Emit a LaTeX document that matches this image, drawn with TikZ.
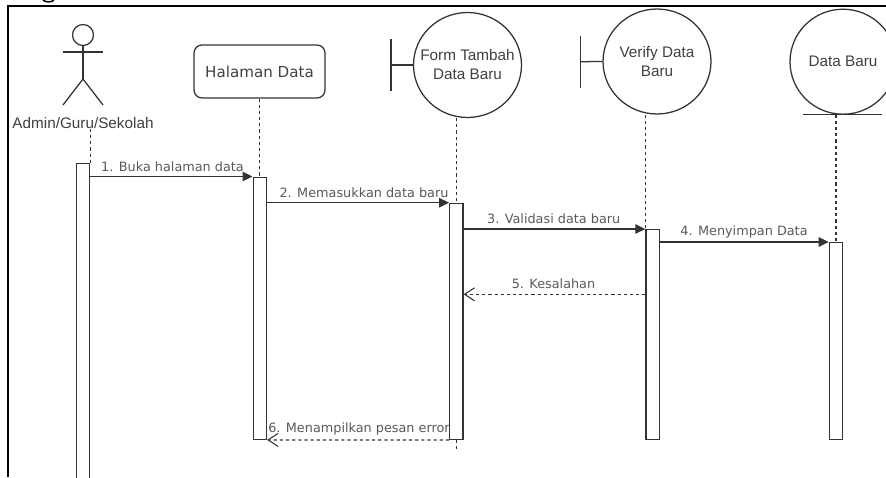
\documentclass[tikz,border=0pt]{standalone}
\usepackage{fontspec}
\newfontfamily\headfont{Liberation Sans}
\newfontfamily\msgfont{DejaVu Sans}
\usetikzlibrary{arrows.meta}
\usetikzlibrary{shapes.geometric}
\tikzset{
  lineColor/.style = {draw = black!80, line width = 0.72pt},
  lifeline/.style = {lineColor, dash pattern = on 1.8pt off 1.7pt},
  entity/.style = {lineColor, ellipse, minimum width = 2.16cm, minimum height = 2.1cm, inner sep = -0.3cm, align = center, text = black!75, font = \headfont\fontsize{8.7}{10.8}\selectfont},
  actbar/.style = {lineColor, fill = white, anchor = north, minimum width = 0.266cm, inner sep = 0pt},
  msgcall/.style = {lineColor, -{Triangle[length = 0.2cm, width = 0.19cm]}},
  msgback/.style = {lifeline, -{Straight Barb[length = 0.2cm, width = 0.26cm, line width = 0.6pt]}},
  msglabel/.style = {inner sep = 0pt, text = black!65, font = \msgfont\fontsize{7.3}{9}\selectfont},
}

\begin{document}
\begin{tikzpicture}[x = 0.02cm, y = -0.02cm]
      \useasboundingbox (0, 0) rectangle (886, 477);
      \clip (0, 0) rectangle (886, 477);
      \draw[line width = 0.9pt] (8, 477) -- (8, 6) -- (886, 6);
      \draw[line width = 0.9pt] (43, 0) .. controls (45, 2.5) and (52, 2.5) .. (54, 0);

      \node[lineColor, circle, minimum size = 0.42cm, inner sep = 0pt] (actorHead) at (83, 35) {};
      \coordinate (actorHip) at (83, 79);
      \draw[lineColor] (actorHead.south) -- (actorHip);
      \draw[lineColor] (63, 52) -- (103, 52);
      \draw[lineColor] (63, 105) -- (actorHip) -- (103, 105);
      \node[inner sep = 0pt, text = black!75, font = \headfont\fontsize{8.7}{10.8}\selectfont] (actorLabel) at (83, 123) {Admin/Guru/Sekolah};

      \node[lineColor, rectangle, rounded corners = 0.16cm, minimum width = 2.62cm, minimum height = 1.06cm, text = black!75, font = \msgfont\fontsize{8.6}{10}\selectfont] (halaman) at (259.5, 71.5) {Halaman Data};
      \node[entity] (form) at (467.5, 65) {Form Tambah\\Data Baru};
      \node[entity] (verify) at (657, 61.5) {Verify Data\\Baru};
      \node[entity, minimum width = 2.12cm] (dataBaru) at (843, 61.7) {Data Baru};

      \coordinate (formBar) at (391, 65);
      \coordinate (verifyBar) at (580.7, 61.7);
      \draw[lineColor] (form.west) -- (formBar);
      \draw[lineColor] (formBar) ++(0, -26) -- ++(0, 52);
      \draw[lineColor] (verify.west) -- (verifyBar);
      \draw[lineColor] (verifyBar) ++(0, -26) -- ++(0, 52);
      \draw[lineColor] (803, 114.5) -- (882, 114.5);

      \node[actbar, minimum height = 7cm] (actAdmin) at (83, 163) {};
      \node[actbar, minimum height = 5.244cm] (actHalaman) at (259.8, 176.5) {};
      \node[actbar, minimum height = 4.72cm] (actForm) at (456.3, 202.7) {};
      \node[actbar, minimum height = 4.194cm] (actVerify) at (652.6, 229) {};
      \node[actbar, minimum height = 3.934cm] (actData) at (836, 242) {};

      \coordinate (formEnd) at (456.3, 452);
      \coordinate (kesalahan) at (652.6, 294.3);

      \draw[lifeline] (actAdmin.north east |- actorLabel.south) -- (actAdmin.north east);
      \draw[lifeline] (halaman.south -| actHalaman.north) -- (actHalaman.north);
      \draw[lifeline] (form.south -| actForm.north) -- (actForm.north);
      \draw[lifeline] (actForm.south) -- (formEnd);
      \draw[lifeline] (verify.south -| actVerify.north west) -- (actVerify.north west);
      \draw[lifeline] (dataBaru.south -| actData.north) -- (actData.north);

      \draw[msgcall] (actAdmin.east |- actHalaman.north west) -- (actHalaman.north west);
      \draw[msgcall] (actHalaman.east |- actForm.north west) -- (actForm.north west);
      \draw[msgcall] (actForm.east |- actVerify.north west) -- (actVerify.north west);
      \draw[msgcall] (actVerify.east |- actData.north west) -- (actData.north west);
      \draw[msgback] (actVerify.west |- kesalahan) -- (actForm.east |- kesalahan);
      \draw[msgback] (actForm.south west) -- (actHalaman.south east);

      \node[msglabel] (labelBuka) at (172.5, 167) {1. Buka halaman data};
      \node[msglabel] (labelMasuk) at (364, 192.5) {2. Memasukkan data baru};
      \node[msglabel] (labelValidasi) at (553.7, 218.5) {3. Validasi data baru};
      \node[msglabel] (labelSimpan) at (744, 232) {4. Menyimpan Data};
      \node[msglabel] (labelSalah) at (553.5, 284) {5. Kesalahan};
      \node[msglabel] (labelError) at (359, 429) {6. Menampilkan pesan error};
    \end{tikzpicture}
\end{document}
